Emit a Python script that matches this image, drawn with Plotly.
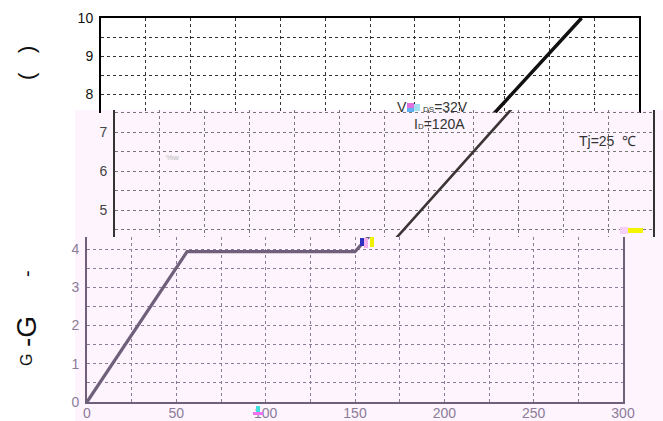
import plotly.graph_objects as go

# Gate charge curve (Qg in nC, Vgs in V)
qg = [0, 56, 150, 268]
vgs = [0, 3.93, 3.93, 10]

x_ticks = [0, 50, 100, 150, 200, 250, 300]
x_grid = [0, 25, 50, 75, 100, 125, 150, 175, 200, 225, 250, 275, 300]
top_y = [7.5, 8, 8.5, 9, 9.5, 10]
mid_y = [4.5, 5, 5.5, 6, 6.5, 7, 7.5]
bot_y = [0, 0.5, 1, 1.5, 2, 2.5, 3, 3.5, 4]

W, H = 663, 421
def PX(p): return p / W
def PY(p): return 1 - p / H

def lab(vals):
    return [str(int(v)) if float(v).is_integer() else " " for v in vals]

FONT = "Liberation Sans, Arial, sans-serif"
PINK = "#fdf4fd"

fig = go.Figure()
fig.add_trace(go.Scatter(x=qg, y=vgs, mode="lines", xaxis="x", yaxis="y",
                         line=dict(color="#111111", width=3.5), showlegend=False))
fig.add_trace(go.Scatter(x=qg, y=vgs, mode="lines", xaxis="x2", yaxis="y2",
                         line=dict(color="#3c3536", width=2.6), showlegend=False))
fig.add_trace(go.Scatter(x=qg, y=vgs, mode="lines", xaxis="x3", yaxis="y3",
                         line=dict(color="#6f5f7a", width=3.2), showlegend=False))

def xax(domain, grid_color, show_labels, line, anchor, side="bottom", lcolor="#000"):
    return dict(domain=domain, range=[0, 300], tickmode="array", tickvals=x_grid,
                ticktext=[str(v) if (show_labels and v in x_ticks) else " " for v in x_grid],
                showticklabels=show_labels,
                showgrid=True, gridcolor=grid_color, griddash="3px,3px", gridwidth=1,
                zeroline=False, showline=line, linecolor=lcolor, linewidth=2, side=side,
                ticks="", ticklabelstandoff=-3,
                tickfont=dict(family=FONT, size=14, color="#8c7c99"),
                automargin=False, anchor=anchor, fixedrange=True)

def yax(domain, rng, vals, grid_color, tcolor, lcolor, anchor):
    return dict(domain=domain, range=rng, tickmode="array", tickvals=vals, ticktext=lab(vals),
                showgrid=True, gridcolor=grid_color, griddash="3px,3px", gridwidth=1,
                zeroline=False, showline=True, mirror=True, linecolor=lcolor, linewidth=2,
                ticks="outside", ticklen=3, tickcolor="rgba(0,0,0,0)",
                tickfont=dict(family=FONT, size=14, color=tcolor), anchor=anchor,
                automargin=False, fixedrange=True)

fig.update_layout(
    template="none",
    width=W, height=H, margin=dict(l=0, r=0, t=0, b=0, pad=0), autosize=False,
    paper_bgcolor="white", plot_bgcolor="rgba(0,0,0,0)", showlegend=False,
    xaxis=xax([PX(101), PX(639)], "#333333", False, True, "y", side="top", lcolor="#000"),
    yaxis=yax([PY(113), PY(18)], [7.5, 10], top_y, "#333333", "#111111", "#000000", "x"),
    xaxis2=xax([PX(115), PX(653)], "#777777", False, False, "y2"),
    yaxis2=yax([PY(237), PY(110)], [4.308, 7.564], mid_y, "#777777", "#444444", "#333333", "x2"),
    xaxis3=xax([PX(87), PX(623)], "#8c7c99", True, True, "y3", lcolor="#6f5f7a"),
    yaxis3=yax([PY(402), PY(237)], [0, 4.314], bot_y, "#8c7c99", "#8c7c99", "#6f5f7a", "x3"),
)

# pink scanned-page background for middle and lower parts
fig.add_shape(type="rect", xref="paper", yref="paper", x0=PX(75), x1=1, y0=0, y1=PY(110),
              fillcolor=PINK, line_width=0, layer="below")

# small colour artifacts from the scan
arts = [
    (407, 414, 103, 108, "#e070e0"), (407, 414, 108, 112, "#60b0f0"), (414, 420, 104, 111, "#a0e0f0"),
    (360, 364, 238, 246, "#3030c0"), (364, 368, 238, 248, "#f0b0f0"), (370, 374, 237, 247, "#f0f000"),
    (628, 643, 228, 233, "#f4f400"), (620, 628, 227, 234, "#f6d0f6"),
    (256, 260, 406, 412, "#40e0e0"), (253, 263, 412, 415, "#f070f0"),
]
for x0, x1, y0, y1, c in arts:
    fig.add_shape(type="rect", xref="paper", yref="paper", x0=PX(x0), x1=PX(x1),
                  y0=PY(y1), y1=PY(y0), fillcolor=c, line_width=0, layer="above")

def ann(text, px, py, size, color="#333333", angle=0, xanchor="center"):
    fig.add_annotation(text=text, x=PX(px), y=PY(py), xref="paper", yref="paper",
                       showarrow=False, textangle=angle, xanchor=xanchor, yanchor="middle",
                       font=dict(family=FONT, size=size, color=color))

ann("V", 402, 107, 14)
ann("<span style='font-size:8px'>DS</span>=32V", 421, 107, 14, xanchor="left")
ann("I<span style='font-size:8px'>D</span>=120A", 412, 124, 14, xanchor="left")
ann("Tj=25  ℃", 577, 141, 14, xanchor="left")
ann("%w", 172, 158, 8, color="#bbbbbb")

# vertical axis title fragments
ann("(", 27, 76, 22, color="#111111", angle=-90)
ann(")", 27, 50, 22, color="#111111", angle=-90)
ann("-", 27, 274, 20, color="#111111", angle=-90)
ann("-G", 26, 332, 28, color="#111111", angle=-90)
ann("G", 26, 360, 16, color="#111111", angle=-90)

fig.write_html("out.html", config={"displayModeBar": False},
               post_script="document.body.style.margin='0';document.body.style.overflow='hidden';")
